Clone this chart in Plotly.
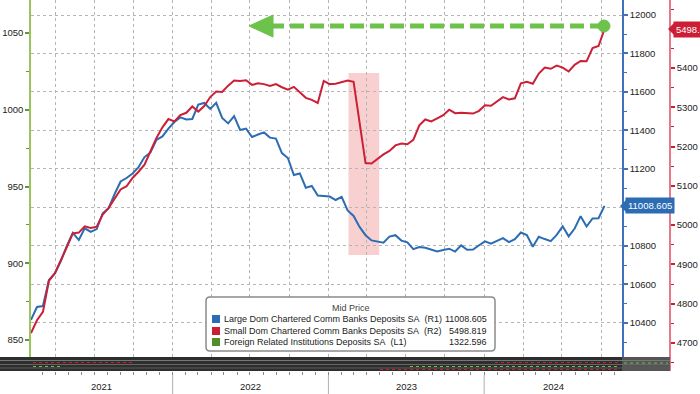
import plotly.graph_objects as go
import pandas as pd

# ---------------- data ----------------
START_DATE = "2021-02-03"          # first sampled point, 2-week step
N_POINTS = 97
dates = pd.date_range(START_DATE, periods=N_POINTS, freq="14D")

large_banks = [
    10416, 10483, 10488, 10623, 10657, 10722, 10800, 10868, 10831, 10892,
    10873, 10888, 10970, 10996, 11070, 11135, 11153, 11177, 11210, 11262,
    11286, 11351, 11369, 11410, 11444, 11468, 11457, 11460, 11535, 11543,
    11512, 11544, 11465, 11437, 11475, 11403, 11410, 11366, 11379, 11390,
    11363, 11358, 11283, 11257, 11169, 11177, 11103, 11112, 11062, 11060,
    11057, 11039, 11055, 10985, 10956, 10899, 10856, 10829, 10821, 10817,
    10849, 10856, 10828, 10819, 10784, 10795, 10791, 10782, 10772, 10779,
    10786, 10771, 10803, 10780, 10782, 10804, 10824, 10812, 10827, 10841,
    10820, 10835, 10870, 10857, 10796, 10848, 10836, 10825, 10858, 10902,
    10850, 10891, 10955, 10901, 10943, 10944, 11008.605,
]

small_banks = [
    4725, 4758, 4779, 4858, 4878, 4910, 4944, 4979, 4981, 4997,
    4993, 4996, 5027, 5044, 5069, 5091, 5099, 5120, 5136, 5154,
    5188, 5222, 5249, 5270, 5264, 5280, 5286, 5302, 5289, 5303,
    5326, 5340, 5339, 5355, 5368, 5367, 5369, 5357, 5361, 5359,
    5354, 5359, 5351, 5345, 5352, 5338, 5324, 5319, 5311, 5367,
    5359, 5360, 5364, 5368, 5365, 5258, 5158, 5157, 5169, 5180,
    5189, 5203, 5208, 5206, 5217, 5254, 5269, 5264, 5272, 5280,
    5294, 5285, 5286, 5285, 5284, 5291, 5305, 5304, 5314, 5326,
    5320, 5323, 5361, 5365, 5360, 5386, 5401, 5398, 5406, 5401,
    5391, 5408, 5418, 5417, 5451, 5456, 5498.819,
]

# Foreign related institutions (L1): only its last value is known; it lies far above the shown L1 range
foreign_last = [1322.596]

SERIES_NAMES = [
    "Large Dom Chartered Comm Banks Deposits SA",
    "Small Dom Chartered Comm Banks Deposits SA",
    "Foreign Related Institutions Deposits SA",
]
SERIES_AXES = ["(R1)", "(R2)", "(L1)"]
LAST_VALUES = ["11008.605", "5498.819", "1322.596"]
LEGEND_TITLE = "Mid Price"
YEAR_LABELS = ["2021", "2022", "2023", "2024"]

L1_TICKS = [850, 900, 950, 1000, 1050]
R1_TICKS = [10400, 10600, 10800, 11000, 11200, 11400, 11600, 11800, 12000]
R1_TICK_TEXT = ["10400", "10600", "10800", "", "11200", "11400", "11600", "11800", "12000"]
R2_TICKS = [4700, 4800, 4900, 5000, 5100, 5200, 5300, 5400]

HIGHLIGHT_START = "2023-02-17"
HIGHLIGHT_END = "2023-04-30"
HIGHLIGHT_R1 = [10753, 11699]

X_RANGE = ["2021-02-03", "2024-11-19"]
L1_RANGE = [829.8, 1071.5]
R1_RANGE = [10150.6, 12077.9]
R2_RANGE = [4628.7, 5573.1]

# ---------------- style ----------------
BLUE = "#2b6cb3"
RED = "#cc1f36"
GREEN = "#6cc24a"
AXIS_GREEN = "#9cc45e"
AXIS_BLUE = "#3f72b8"
AXIS_RED = "#e8798a"
FONT = "Liberation Sans, Arial, sans-serif"
TXT = "#222222"

W, H = 700, 394
ML, MR, MT, MB = 31, 30, 0, 23
PW = W - ML - MR      # 639
PH = H - MT - MB      # 371
XDOM = [0, (622 - ML) / PW]

x_lo, x_hi = pd.Timestamp(X_RANGE[0]), pd.Timestamp(X_RANGE[1])


def px(x):
    return (x - ML) / PW


def py(y):
    return (PH - (y - MT)) / PH


def date_to_paper(d):
    d = pd.Timestamp(d)
    return XDOM[0] + (d - x_lo) / (x_hi - x_lo) * (XDOM[1] - XDOM[0])


fig = go.Figure()
fig.add_trace(go.Scatter(x=dates, y=large_banks, yaxis="y", mode="lines",
                         line=dict(color=BLUE, width=2), showlegend=False,
                         hoverinfo="skip"))
fig.add_trace(go.Scatter(x=dates, y=small_banks, yaxis="y3", mode="lines",
                         line=dict(color=RED, width=2), showlegend=False,
                         hoverinfo="skip"))
fig.add_trace(go.Scatter(x=dates[-1:], y=foreign_last, yaxis="y2", mode="lines",
                         line=dict(color="#4f8f2a", width=2), showlegend=False,
                         hoverinfo="skip"))

tickfont = dict(family=FONT, size=9.5, color=TXT)

shapes = []
# highlight band (March 2023)
shapes.append(dict(type="rect", xref="x", yref="y", x0=HIGHLIGHT_START, x1=HIGHLIGHT_END,
                   y0=HIGHLIGHT_R1[0], y1=HIGHLIGHT_R1[1], fillcolor="#f9d0d0",
                   line=dict(width=0), layer="below"))
# bottom history strip
shapes.append(dict(type="rect", xref="paper", yref="paper", x0=px(0), x1=px(622),
                   y0=py(371), y1=py(357), fillcolor="#2e2e2e", line=dict(width=0), layer="above"))
shapes.append(dict(type="rect", xref="paper", yref="paper", x0=px(622), x1=px(670),
                   y0=py(371), y1=py(357), fillcolor="#555555", line=dict(width=0), layer="above"))
for yy, col in [(360.5, "#777777"), (364.5, "#666666"), (368, "#5a5a5a")]:
    shapes.append(dict(type="line", xref="paper", yref="paper", x0=px(0), x1=px(670),
                       y0=py(yy), y1=py(yy), line=dict(color=col, width=1), layer="above"))
for (x0, x1, yy, col) in [(33, 135, 362.5, RED), (33, 60, 366.5, GREEN),
                          (495, 620, 362.5, RED), (410, 620, 366.5, GREEN),
                          (380, 620, 369.5, RED), (624, 668, 363, GREEN)]:
    shapes.append(dict(type="line", xref="paper", yref="paper", x0=px(x0), x1=px(x1),
                       y0=py(yy), y1=py(yy), line=dict(color=col, width=1, dash="dot"),
                       layer="above"))

# year separators below the strip
for yl in YEAR_LABELS[1:]:
    xp = date_to_paper(f"{yl}-01-01")
    shapes.append(dict(type="line", xref="paper", yref="paper", x0=xp, x1=xp,
                       y0=py(375), y1=py(394), line=dict(color="#b0b0b0", width=1)))

# green dashed arrow
ay = 26
shapes.append(dict(type="line", xref="paper", yref="paper", x0=px(270), x1=px(604),
                   y0=py(ay), y1=py(ay), line=dict(color=GREEN, width=5, dash="14px,6px"),
                   layer="above"))
shapes.append(dict(type="path", xref="paper", yref="paper",
                   path=f"M {px(249)},{py(ay)} L {px(273)},{py(ay-11)} L {px(273)},{py(ay+11)} Z",
                   fillcolor=GREEN, line=dict(color=GREEN, width=1), layer="above"))
shapes.append(dict(type="circle", xref="paper", yref="paper", x0=px(598), x1=px(610),
                   y0=py(32), y1=py(20), fillcolor=GREEN, line=dict(color=GREEN, width=1),
                   layer="above"))

# legend box (rounded corners)
bx0, bx1, by0, by1, r = 206, 495, 297, 351, 4
legend_path = (f"M {px(bx0 + r)},{py(by0)} L {px(bx1 - r)},{py(by0)} "
               f"Q {px(bx1)},{py(by0)} {px(bx1)},{py(by0 + r)} L {px(bx1)},{py(by1 - r)} "
               f"Q {px(bx1)},{py(by1)} {px(bx1 - r)},{py(by1)} L {px(bx0 + r)},{py(by1)} "
               f"Q {px(bx0)},{py(by1)} {px(bx0)},{py(by1 - r)} L {px(bx0)},{py(by0 + r)} "
               f"Q {px(bx0)},{py(by0)} {px(bx0 + r)},{py(by0)} Z")
shapes.append(dict(type="path", xref="paper", yref="paper", path=legend_path,
                   fillcolor="white", line=dict(color="#8a8a8a", width=1.5), layer="above"))
row_y = [319, 331, 342]
row_cols = [BLUE, RED, "#4f8f2a"]
for yy, col in zip(row_y, row_cols):
    shapes.append(dict(type="rect", xref="paper", yref="paper", x0=px(212), x1=px(220),
                       y0=py(yy + 4), y1=py(yy - 4), fillcolor=col, line=dict(width=0),
                       layer="above"))

# value tag pointers
shapes.append(dict(type="path", xref="paper", yref="paper",
                   path=f"M {px(620)},{py(206)} L {px(626)},{py(200)} L {px(626)},{py(212)} Z",
                   fillcolor=BLUE, line=dict(width=0), layer="above"))
shapes.append(dict(type="path", xref="paper", yref="paper",
                   path=f"M {px(668)},{py(29)} L {px(674)},{py(23)} L {px(674)},{py(35)} Z",
                   fillcolor=RED, line=dict(width=0), layer="above"))

annotations = []
annotations.append(dict(xref="paper", yref="paper", x=px(351), y=py(308), text=LEGEND_TITLE,
                        showarrow=False, xanchor="center", yanchor="middle",
                        font=dict(family=FONT, size=9, color="#444")))
for yy, name, ax, val in zip(row_y, SERIES_NAMES, SERIES_AXES, LAST_VALUES):
    annotations.append(dict(xref="paper", yref="paper", x=px(222), y=py(yy),
                            text=f"{name}\u00a0\u00a0{ax}", showarrow=False,
                            xanchor="left", yanchor="middle",
                            font=dict(family=FONT, size=9, color=TXT)))
    annotations.append(dict(xref="paper", yref="paper", x=px(489), y=py(yy), text=val,
                            showarrow=False, xanchor="right", yanchor="middle",
                            font=dict(family=FONT, size=9, color=TXT)))

# year labels centred on the visible part of each year
for yl in YEAR_LABELS:
    a = max(pd.Timestamp(f"{yl}-01-01"), x_lo)
    b = min(pd.Timestamp(f"{int(yl) + 1}-01-01"), x_hi)
    annotations.append(dict(xref="paper", yref="paper", x=date_to_paper(a + (b - a) / 2),
                            y=py(386), text=yl, showarrow=False, xanchor="center",
                            yanchor="middle", font=dict(family=FONT, size=9.5, color=TXT)))

annotations.append(dict(xref="paper", yref="y", x=px(625), y=large_banks[-1],
                        text=LAST_VALUES[0], showarrow=False, xanchor="left", yanchor="middle",
                        bgcolor=BLUE, borderpad=2,
                        font=dict(family=FONT, size=9.5, color="white")))
annotations.append(dict(xref="paper", yref="y3", x=px(673), y=small_banks[-1],
                        text=LAST_VALUES[1], showarrow=False, xanchor="left", yanchor="middle",
                        bgcolor=RED, borderpad=2,
                        font=dict(family=FONT, size=9.5, color="white")))

fig.update_layout(
    width=W, height=H,
    margin=dict(l=ML, r=MR, t=MT, b=MB, pad=0),
    plot_bgcolor="white", paper_bgcolor="white",
    showlegend=False,
    xaxis=dict(domain=XDOM, range=X_RANGE, type="date", anchor="y",
               dtick="M3", tick0="2021-01-01", showticklabels=False,
               ticks="outside", ticklen=3, tickcolor="#888", tickwidth=1,
               showgrid=True, griddash="dot", gridcolor="#b5b5b5", gridwidth=1,
               showline=False, zeroline=False,
               minor=dict(dtick="M1", tick0="2021-01-01", ticks="outside", ticklen=3,
                          tickcolor="#888", tickwidth=1, showgrid=False)),
    yaxis=dict(range=R1_RANGE, tickmode="array", tickvals=R1_TICKS, ticktext=R1_TICK_TEXT,
               side="right", anchor="x",
               showline=True, linecolor=AXIS_BLUE, linewidth=1.5,
               ticks="outside", ticklen=4, tickwidth=2, tickcolor=AXIS_BLUE,
               showgrid=True, griddash="dot", gridcolor="#b5b5b5", gridwidth=1,
               zeroline=False, tickfont=tickfont,
               minor=dict(tickmode="linear", tick0=0, dtick=100, ticks="outside",
                          ticklen=3, tickwidth=1, tickcolor=AXIS_BLUE, showgrid=False)),
    yaxis2=dict(range=L1_RANGE, tickmode="array", tickvals=L1_TICKS, tickformat="d",
                overlaying="y", side="left", anchor="x",
                showline=True, linecolor=AXIS_GREEN, linewidth=1.5,
                ticks="outside", ticklen=4, tickwidth=2, tickcolor="#5f9a2a",
                showgrid=False, zeroline=False, tickfont=tickfont,
                minor=dict(tickmode="linear", tick0=0, dtick=25, ticks="outside",
                           ticklen=3, tickwidth=1, tickcolor="#5f9a2a", showgrid=False)),
    yaxis3=dict(range=R2_RANGE, tickmode="array", tickvals=R2_TICKS, tickformat="d",
                overlaying="y", side="right", anchor="free", position=1.0,
                showline=True, linecolor=AXIS_RED, linewidth=1.5,
                ticks="outside", ticklen=4, tickwidth=2, tickcolor=RED,
                showgrid=False, zeroline=False, tickfont=tickfont,
                minor=dict(tickmode="linear", tick0=0, dtick=50, ticks="outside",
                           ticklen=3, tickwidth=1, tickcolor=RED, showgrid=False)),
    shapes=shapes,
    annotations=annotations,
)

fig.write_html("out.html", config={"displayModeBar": False},
               post_script="document.body.style.margin='0px';document.body.style.padding='0px';")
